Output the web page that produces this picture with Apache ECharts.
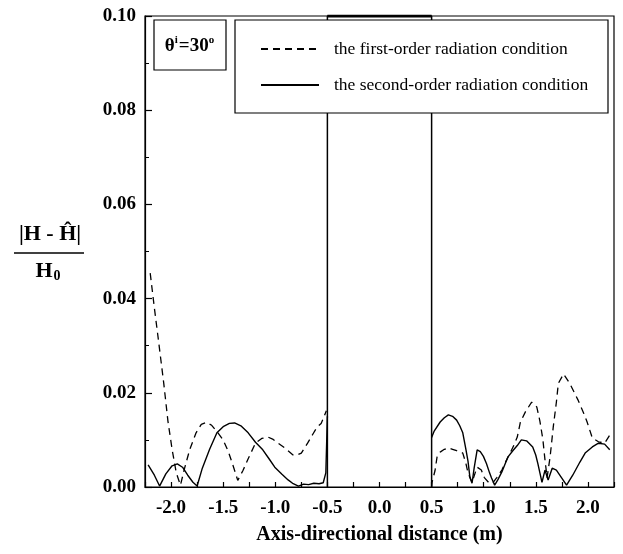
<!DOCTYPE html>
<html>
<head>
<meta charset="utf-8">
<script src="https://cdn.jsdelivr.net/npm/echarts@6/dist/echarts.min.js"></script>
<style>html,body{margin:0;padding:0;background:#fff}#c{width:623px;height:554px}</style>
</head>
<body>
<div id="c"></div>
<script>
// ---- data ----
var firstLeftX  = [-2.20,-2.16,-2.12,-2.07,-2.03,-1.99,-1.95,-1.91,-1.87,-1.82,-1.76,-1.71,-1.66,-1.61,-1.55,-1.50,-1.45,-1.40,-1.36,-1.31,-1.26,-1.19,-1.13,-1.07,-1.02,-0.99,-0.91,-0.83,-0.79,-0.75,-0.69,-0.64,-0.60,-0.56,-0.54,-0.51];
var firstLeftY  = [0.0454,0.038,0.031,0.022,0.014,0.008,0.003,0.0004,0.004,0.008,0.0115,0.0133,0.0137,0.0131,0.0115,0.0100,0.0075,0.0042,0.0014,0.0035,0.0060,0.0093,0.0103,0.0106,0.0101,0.0096,0.0083,0.0068,0.0068,0.0072,0.0093,0.0112,0.0127,0.0135,0.0145,0.0162];
var firstRightX = [0.50,0.504,0.533,0.553,0.582,0.622,0.661,0.701,0.740,0.770,0.799,0.829,0.849,0.888,0.918,0.937,0.977,1.006,1.046,1.085,1.125,1.174,1.214,1.253,1.292,1.322,1.352,1.401,1.460,1.509,1.539,1.568,1.588,1.608,1.637,1.667,1.697,1.716,1.766,1.825,1.904,1.953,1.992,2.042,2.101,2.160,2.209];
var firstRightY = [0.0,0.001,0.0035,0.0065,0.0074,0.0080,0.0083,0.0080,0.0077,0.0075,0.0072,0.0050,0.0030,0.0010,0.0030,0.0042,0.0036,0.0020,0.0010,0.0008,0.0020,0.0036,0.0055,0.0072,0.0090,0.0106,0.0138,0.0160,0.0180,0.0170,0.0140,0.0100,0.0057,0.0020,0.0064,0.0127,0.0180,0.0220,0.0240,0.0220,0.0185,0.0160,0.0138,0.0104,0.0096,0.0093,0.0110];
var secondLeftX = [-2.22,-2.16,-2.11,-2.05,-1.99,-1.94,-1.89,-1.84,-1.79,-1.75,-1.70,-1.63,-1.56,-1.50,-1.44,-1.39,-1.33,-1.26,-1.19,-1.12,-1.06,-1.005,-0.936,-0.877,-0.828,-0.778,-0.729,-0.68,-0.63,-0.58,-0.54,-0.515,-0.50];
var secondLeftY = [0.0047,0.0025,0.0002,0.0028,0.0045,0.0049,0.0042,0.0025,0.0010,0.0002,0.0040,0.0080,0.0115,0.0128,0.0135,0.0136,0.0130,0.0115,0.0095,0.0079,0.0060,0.0042,0.0027,0.0015,0.0007,0.0002,0.0006,0.0005,0.0008,0.0007,0.0009,0.0030,0.0150];
var secondRightX = [0.50,0.523,0.582,0.622,0.661,0.701,0.740,0.770,0.799,0.829,0.849,0.868,0.888,0.908,0.937,0.967,0.997,1.026,1.056,1.075,1.105,1.135,1.174,1.233,1.283,1.322,1.361,1.411,1.470,1.499,1.519,1.539,1.559,1.588,1.618,1.657,1.697,1.746,1.795,1.854,1.923,1.973,2.042,2.101,2.160,2.209];
var secondRightY = [0.0105,0.0118,0.0138,0.0147,0.0153,0.0150,0.0142,0.0130,0.0115,0.0080,0.0055,0.0020,0.0008,0.0040,0.0079,0.0075,0.0065,0.0050,0.0030,0.0019,0.0004,0.0015,0.0032,0.0064,0.0078,0.0088,0.0100,0.0098,0.0085,0.0068,0.0050,0.0030,0.0010,0.0036,0.0015,0.0040,0.0036,0.0020,0.0004,0.0025,0.0053,0.0072,0.0085,0.0093,0.0091,0.0079];
var boxX = [-0.5,-0.5,0.5,0.5];
var boxY = [0,0.1,0.1,0];
var boxTopX = [-0.5,0.5];
var boxTopY = [0.1,0.1];
var xTickLabels = ['-2.0','-1.5','-1.0','-0.5','0.0','0.5','1.0','1.5','2.0'];
var yTickLabels = ['0.00','0.02','0.04','0.06','0.08','0.10'];
var nameFirst = 'the first-order radiation condition';
var nameSecond = 'the second-order radiation condition';

function zip(xs, ys){ return xs.map(function(x,i){ return [x, ys[i]]; }); }

var serif = 'Liberation Serif';
var chart = echarts.init(document.getElementById('c'), null, {renderer:'canvas'});
var dashStyle = {color:'#000', width:1.3, type:[7,5]};
var solidStyle = {color:'#000', width:1.4, type:'solid'};

chart.setOption({
  animation:false,
  backgroundColor:'#fff',
  grid:{left:145, right:9, top:16, bottom:67, show:true, borderColor:'#000', borderWidth:1.2, backgroundColor:'transparent'},
  xAxis:{
    type:'value', min:-2.25, max:2.25, interval:0.25,
    axisLine:{onZero:false, lineStyle:{color:'#000', width:1.2}},
    axisTick:{inside:true, length:5, lineStyle:{color:'#000', width:1.2}},
    splitLine:{show:false},
    axisLabel:{
      interval:0, showMinLabel:true, showMaxLabel:true, margin:12,
      color:'#000', fontFamily:serif, fontWeight:'bold', fontSize:19,
      formatter:function(v){
        var s = v.toFixed(1);
        return xTickLabels.indexOf(s) >= 0 && Math.abs(v*2 - Math.round(v*2)) < 1e-6 ? s : '';
      }
    },
    name:'Axis-directional distance (m)', nameLocation:'middle', nameGap:38,
    nameTextStyle:{color:'#000', fontFamily:serif, fontWeight:'bold', fontSize:20}
  },
  yAxis:{
    type:'value', min:0, max:0.1, interval:0.02,
    axisLine:{show:true, onZero:false, lineStyle:{color:'#000', width:1.2}},
    axisTick:{inside:true, length:7, lineStyle:{color:'#000', width:1.2}},
    minorTick:{show:true, splitNumber:2, length:4, lineStyle:{color:'#000', width:1}},
    splitLine:{show:false},
    axisLabel:{color:'#000', fontFamily:serif, fontWeight:'bold', fontSize:19, margin:9,
      formatter:function(v){ return yTickLabels[Math.round(v/0.02)]; }}
  },
  legend:{
    orient:'vertical', left:255, top:34, z:30,
    data:[nameFirst, nameSecond],
    itemWidth:58, itemHeight:14, itemGap:16,
    itemStyle:{opacity:0},
    textStyle:{fontFamily:serif, fontSize:17.5, color:'#000', padding:[0,0,0,10], lineHeight:20}
  },
  graphic:[
    {type:'rect', z:20, shape:{x:235, y:20, width:373, height:93}, style:{fill:'#fff', stroke:'#000', lineWidth:1.2}},
    {type:'rect', z:20, shape:{x:154, y:20, width:72, height:50}, style:{fill:'#fff', stroke:'#000', lineWidth:1.2}},
    {type:'text', z:21, x:190, y:46, style:{
      text:'{a|θ}{s|i}{a|=30}{s|o}', align:'center', verticalAlign:'middle',
      rich:{a:{fontFamily:serif, fontWeight:'bold', fontSize:19, fill:'#000'},
            s:{fontFamily:serif, fontWeight:'bold', fontSize:11, fill:'#000', padding:[0,1,12,0]}}
    }},
    {type:'text', z:21, x:50, y:234, style:{text:'|H - Ĥ|', align:'center', verticalAlign:'middle',
      fontFamily:serif, fontWeight:'bold', fontSize:22, fill:'#000'}},
    {type:'line', z:21, shape:{x1:14, y1:253, x2:84, y2:253}, style:{stroke:'#000', lineWidth:1.5}},
    {type:'text', z:21, x:48, y:271, style:{text:'{a|H}{b|0}', align:'center', verticalAlign:'middle',
      rich:{a:{fontFamily:serif, fontWeight:'bold', fontSize:22, fill:'#000'},
            b:{fontFamily:serif, fontWeight:'bold', fontSize:14, fill:'#000', padding:[10,0,0,1]}}}}
  ],
  series:[
    {type:'line', name:nameFirst, data:zip(firstLeftX, firstLeftY), symbol:'none', lineStyle:dashStyle, itemStyle:{color:'#000'}, z:3},
    {type:'line', name:nameFirst, data:zip(firstRightX, firstRightY), symbol:'none', lineStyle:dashStyle, itemStyle:{color:'#000'}, z:3},
    {type:'line', name:nameSecond, data:zip(secondLeftX, secondLeftY), symbol:'none', lineStyle:solidStyle, itemStyle:{color:'#000'}, z:3},
    {type:'line', name:nameSecond, data:zip(secondRightX, secondRightY), symbol:'none', lineStyle:solidStyle, itemStyle:{color:'#000'}, z:3},
    {type:'line', name:'box', data:zip(boxX, boxY), symbol:'none', lineStyle:{color:'#000', width:1.5}, z:2, silent:true},
    {type:'line', name:'boxTop', data:zip(boxTopX, boxTopY), symbol:'none', lineStyle:{color:'#000', width:3}, z:2, silent:true}
  ]
});
</script>
</body>
</html>
